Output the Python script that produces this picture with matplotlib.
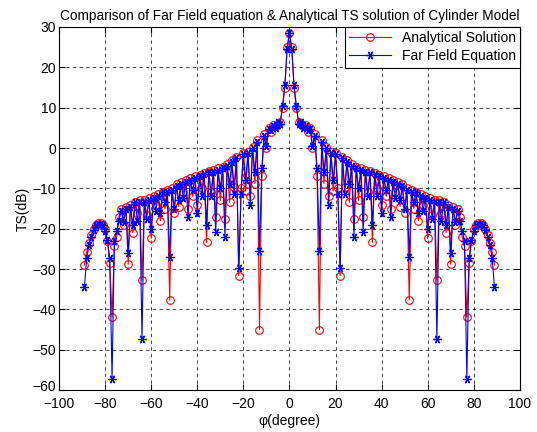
import matplotlib
matplotlib.use("Agg")
import matplotlib.pyplot as plt
import matplotlib.transforms as mtransforms
import numpy as np

plt.rcParams['font.family'] = ['Liberation Sans', 'DejaVu Sans']

# half-pattern, phi = 0..89 degrees (pattern is symmetric about 0)
phi_half = list(range(0, 90))

# Analytical solution TS (dB)
ts_analytical_half = [
    28.5, 25.0, 15.0, 10.0, 6.5, 6.0, 5.5, 5.8, 4.0, 5.0,
    0.0, 3.5, -7.0, -45.0, 2.0, -8.8, 0.3, -12.0, -1.0, -10.7,
    -1.3, -9.8, -31.6, -2.2, -9.6, -3.0, -13.5, -4.0, -17.5, -4.7,
    -13.0, -5.0, -17.2, -5.5, -11.0, -5.8, -23.4, -6.2, -10.0, -6.7,
    -14.0, -7.0, -12.0, -7.5, -15.0, -8.0, -11.0, -8.5, -14.5, -9.0,
    -16.0, -10.0, -37.7, -10.5, -15.0, -10.9, -18.0, -11.5, -14.0, -12.0,
    -22.4, -12.5, -16.5, -13.0, -32.8, -13.0, -16.0, -13.3, -21.0, -14.0,
    -28.8, -14.5, -19.0, -15.0, -17.0, -22.0, -24.4, -41.9, -28.5, -23.0,
    -20.0, -19.0, -18.7, -18.7, -19.0, -20.0, -21.5, -23.5, -25.7, -29.0,
]

# Far field equation TS (dB)
ts_farfield_half = [
    28.5, 24.5, 15.5, 10.5, 6.0, 6.5, 5.0, 5.5, 4.5, 4.8,
    0.5, 3.0, -5.0, -25.6, 1.5, -6.0, 0.0, -14.0, -1.2, -8.0,
    -1.5, -11.3, -29.7, -2.5, -11.3, -3.5, -9.0, -4.5, -22.0, -5.0,
    -10.0, -5.5, -20.8, -6.0, -12.0, -6.0, -19.0, -6.5, -12.0, -7.0,
    -16.0, -7.5, -10.5, -8.0, -17.0, -8.5, -12.5, -9.0, -13.0, -9.5,
    -15.0, -10.5, -27.0, -11.0, -13.5, -11.0, -16.0, -12.0, -15.5, -12.5,
    -20.0, -13.0, -17.5, -13.5, -47.4, -13.5, -18.0, -13.5, -19.0, -14.5,
    -26.0, -15.0, -18.3, -15.5, -18.0, -20.5, -23.0, -57.2, -27.3, -22.8,
    -20.5, -19.2, -18.8, -18.8, -19.2, -20.2, -22.0, -24.0, -27.3, -34.5,
]

# mirror to cover -89..89
phi = np.array([-p for p in phi_half[:0:-1]] + phi_half)
ts_analytical = np.array(ts_analytical_half[:0:-1] + ts_analytical_half)
ts_farfield = np.array(ts_farfield_half[:0:-1] + ts_farfield_half)

fig = plt.figure(figsize=(5.37, 4.32), dpi=100)
ax = fig.add_axes([0.11, 0.097, 0.858, 0.8405])

ax.plot(phi, ts_analytical, color='r', ls='-', marker='o', lw=0.8, ms=5.5,
        mfc='none', mew=0.8, label='Analytical Solution')
ax.plot(phi, ts_farfield, color='b', ls='-', marker=(6, 2, 90), lw=0.8, ms=6,
        mew=0.9, label='Far Field Equation')

ax.set_xlim(-100, 100)
ax.set_ylim(-60, 30)
ax.set_xticks(np.arange(-100, 101, 20))
ax.set_yticks(np.arange(-60, 31, 10))
ax.tick_params(direction='in', top=True, right=True, labelsize=10, length=4)
ax.tick_params(axis='x', pad=5)
ax.tick_params(axis='y', pad=2)
ax.grid(True, color='0.15', ls=(0, (4, 4)), lw=0.6)
for s in ax.spines.values():
    s.set_linewidth(0.8)

# lift the bottom y label a bit so it clears the -100 label (as in the original)
fig.canvas.draw()
ylab = ax.get_yticklabels()[0]
ylab.set_transform(ylab.get_transform() +
                   mtransforms.ScaledTranslation(0, 3 / 72, fig.dpi_scale_trans))

ax.set_xlabel('φ(degree)', fontsize=10, labelpad=2)
ax.set_ylabel('TS(dB)', fontsize=10, labelpad=2)
ax.set_title('Comparison of Far Field equation & Analytical TS solution of Cylinder Model',
             fontsize=9.8, pad=5)

leg = ax.legend(loc='upper right', fontsize=10, fancybox=False, framealpha=1,
                edgecolor='black', borderaxespad=0, handlelength=3,
                borderpad=0.3, labelspacing=0.3)
leg.get_frame().set_linewidth(0.8)

fig.savefig('out.png', dpi=100)
